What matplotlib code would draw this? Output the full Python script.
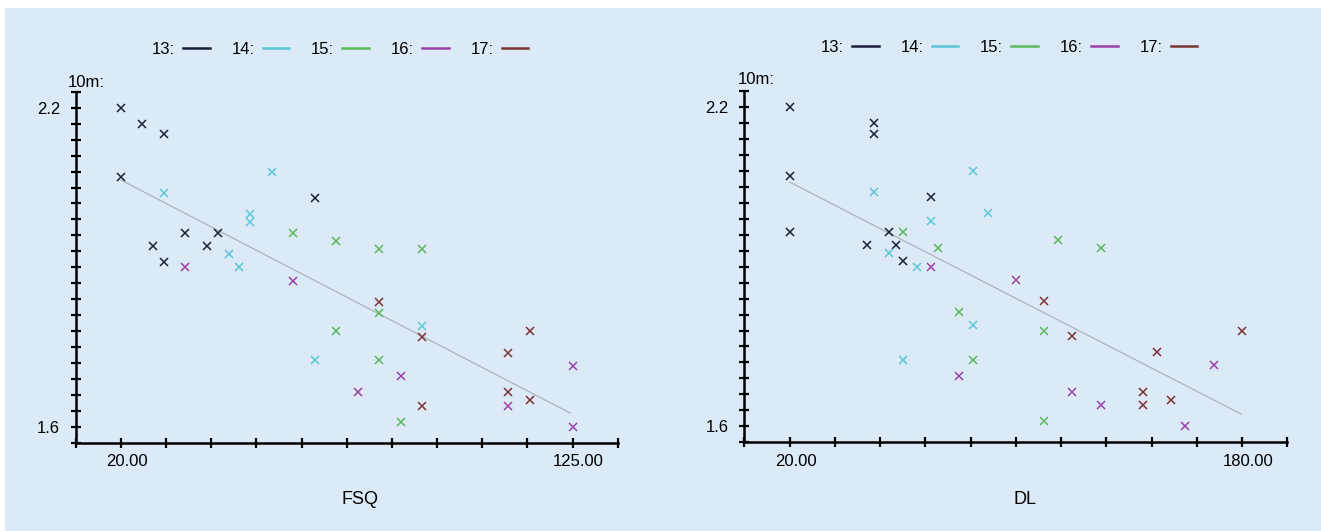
import numpy as np
import matplotlib
matplotlib.use('Agg')
from matplotlib import pyplot as plt
from matplotlib.lines import Line2D
from matplotlib.patches import Rectangle
from matplotlib.transforms import ScaledTranslation

plt.rcParams['font.family'] = ['Liberation Sans Narrow', 'Liberation Sans', 'DejaVu Sans']

# ----- data ----- #
groups = ['13', '14', '15', '16', '17']
colors = ['#1c1f3a', '#5cc6d6', '#5cb85c', '#9c42a6', '#7a3434']

# 10m sprint times per group
t13 = [2.20, 2.17, 2.15, 2.07, 2.03, 1.965, 1.965, 1.94, 1.94, 1.91]
t14 = [2.08, 2.04, 2.00, 1.985, 1.925, 1.90, 1.79, 1.725]
t15 = [1.965, 1.95, 1.935, 1.935, 1.815, 1.78, 1.725, 1.61]
t16 = [1.90, 1.875, 1.715, 1.695, 1.665, 1.64, 1.60]
t17 = [1.835, 1.78, 1.77, 1.74, 1.665, 1.65, 1.64]

# front squat
fsq13 = [20, 25, 30, 20, 65, 35, 42.5, 27.5, 40, 30]
fsq14 = [55, 30, 50, 50, 45, 47.5, 90, 65]
fsq15 = [60, 70, 80, 90, 80, 70, 80, 85]
fsq16 = [35, 60, 125, 85, 75, 110, 125]
fsq17 = [80, 115, 90, 110, 110, 115, 90]

# deadlift
dl13 = [20, 50, 50, 20, 70, 20, 55, 47.5, 57.5, 60]
dl14 = [85, 50, 90, 70, 55, 65, 85, 60]
dl15 = [60, 115, 130, 72.5, 80, 110, 85, 110]
dl16 = [70, 100, 170, 80, 120, 130, 160]
dl17 = [110, 180, 120, 150, 145, 155, 145]

# trend lines (endpoints)
fsq_trend_x = [20, 124.5]
fsq_trend_y = [2.064, 1.626]
dl_trend_x = [20, 179.7]
dl_trend_y = [2.059, 1.623]

times = [t13, t14, t15, t16, t17]
fsq = [fsq13, fsq14, fsq15, fsq16, fsq17]
dl = [dl13, dl14, dl15, dl16, dl17]

###########################################
W, H = 1321, 531
fig = plt.figure(figsize=(W / 100, H / 100), dpi=100)
fig.patch.set_facecolor('white')
bg = '#dce9f7'
fig.patches.append(Rectangle((5 / W, 0), 1, 1 - 8 / H, transform=fig.transFigure,
                             facecolor=bg, edgecolor='none', zorder=-10))

def panel(rect, xs, xmin, xmax, xstep, xlabels, tx, ty, xname, xname_pos, leg_pos, unit_pos):
	ax = fig.add_axes(rect)
	ax.patch.set_alpha(0)
	for i in range(5):
		ax.plot(xs[i], times[i], linestyle='none', marker='x', markersize=5.5,
				markeredgewidth=1.1, color=colors[i], zorder=3)
	ax.plot(tx, ty, color='#adb3ba', linewidth=0.9, zorder=2)
	ax.set_xlim(xmin, xmax)
	ax.set_ylim(1.57, 2.23)
	for s in ['top', 'right']:
		ax.spines[s].set_visible(False)
	for s in ['left', 'bottom']:
		ax.spines[s].set_linewidth(1.8)
	xt = np.arange(xmin, xmax + xstep / 2, xstep)
	ax.set_xticks(xt)
	ax.set_xticklabels([xlabels.get(round(v, 2), '') for v in xt])
	yt = np.arange(1.57, 2.2301, 0.03)
	ax.set_yticks(yt)
	ax.set_yticklabels(['2.2' if abs(v - 2.2) < 1e-6 else ('1.6' if abs(v - 1.6) < 1e-6 else '') for v in yt])
	ax.tick_params(direction='inout', length=6.5, width=1.6, labelsize=12, colors='black')
	ax.tick_params(axis='y', pad=8)
	ax.tick_params(axis='x', pad=5)
	off = ScaledTranslation(6 / 100, 0, fig.dpi_scale_trans)
	for lab in ax.get_xticklabels():
		lab.set_transform(lab.get_transform() + off)
	fig.text(xname_pos[0] / W, 1 - xname_pos[1] / H, xname, ha='center', va='center', fontsize=13)
	fig.text(unit_pos[0] / W, 1 - unit_pos[1] / H, '10m:', ha='left', va='center', fontsize=12)
	handles = [Line2D([], [], color=colors[i], linewidth=1.8, label=groups[i] + ':') for i in range(5)]
	ax.legend(handles=handles, loc='center', bbox_to_anchor=(leg_pos[0] / W, 1 - leg_pos[1] / H),
			  bbox_transform=fig.transFigure, ncol=5, frameon=False, markerfirst=False,
			  fontsize=12, handlelength=1.6, handletextpad=0.5, columnspacing=1.3)
	return ax

panel([75.8 / W, 88 / H, 542 / W, 351.3 / H], fsq, 9.5, 135.5, 10.5, {20.0: '20.00', 125.0: '125.00'},
	  fsq_trend_x, fsq_trend_y, 'FSQ', (360, 499), (340, 49), (68, 82))
panel([744.3 / W, 88.7 / H, 543 / W, 351.3 / H], dl, 4, 196, 16, {20.0: '20.00', 180.0: '180.00'},
	  dl_trend_x, dl_trend_y, 'DL', (1025, 499), (1009, 47), (738, 80))

fig.savefig('out.png', dpi=100, facecolor=fig.get_facecolor())
